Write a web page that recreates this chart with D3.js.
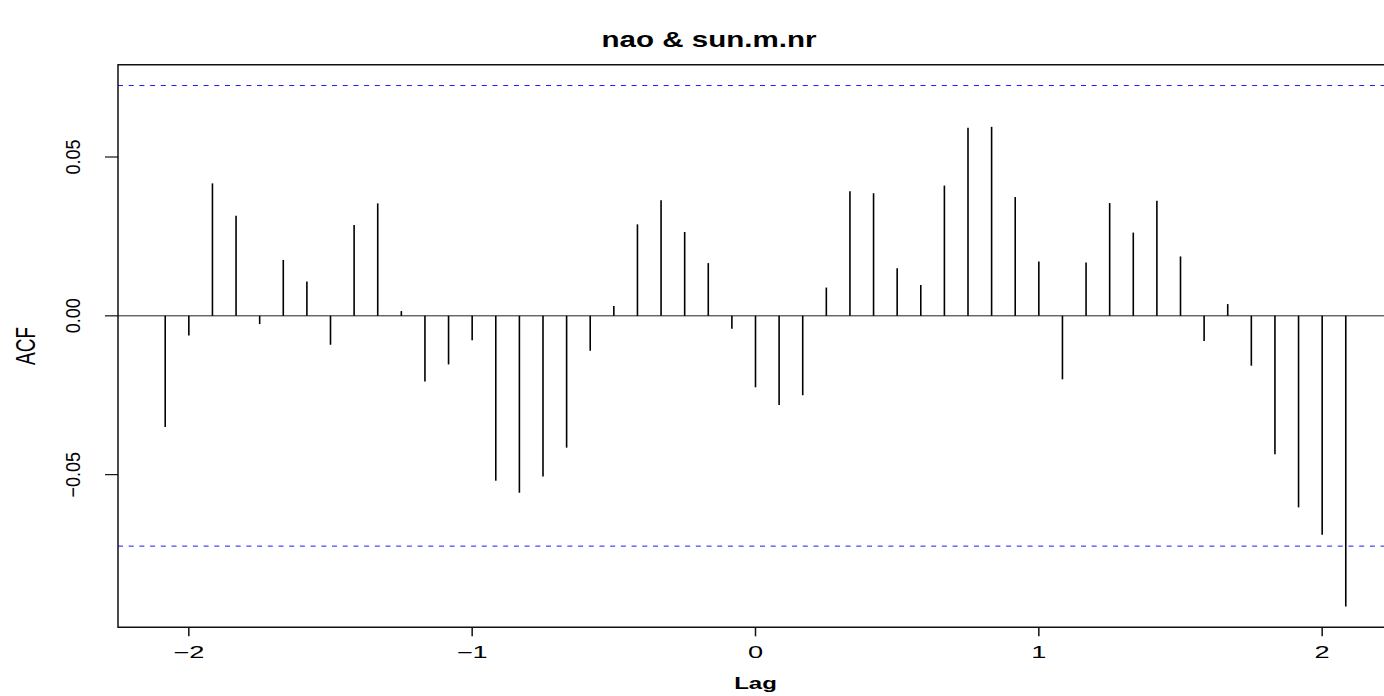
<!DOCTYPE html>
<html>
<head>
<meta charset="utf-8">
<script src="https://cdn.jsdelivr.net/npm/d3@7"></script>
<style>
  body { margin: 0; background: white; }
  svg { display: block; font-family: "Liberation Sans", Arial, sans-serif; }
</style>
</head>
<body>
<div id="plot"></div>
<script>
// lag in months (plotted in years) and cross-correlation values
const lagMonths = [-25, -24, -23, -22, -21, -20, -19, -18, -17, -16, -15, -14, -13, -12, -11, -10, -9, -8, -7, -6, -5, -4, -3, -2, -1,
  0, 1, 2, 3, 4, 5, 6, 7, 8, 9, 10, 11, 12, 13, 14, 15, 16, 17, 18, 19, 20, 21, 22, 23, 24, 25];
const acfValues = [-0.0350, -0.0062, 0.0417, 0.0315, -0.0026, 0.0176, 0.0108, -0.0091, 0.0286, 0.0354, 0.0015, -0.0207, -0.0153,
  -0.0077, -0.0519, -0.0557, -0.0506, -0.0415, -0.0110, 0.0031, 0.0288, 0.0364, 0.0264, 0.0166, -0.0041,
  -0.0225, -0.0281, -0.0250, 0.0089, 0.0392, 0.0386, 0.0150, 0.0097, 0.0410, 0.0592, 0.0595, 0.0374, 0.0171,
  -0.0200, 0.0168, 0.0355, 0.0262, 0.0362, 0.0187, -0.0079, 0.0037, -0.0157, -0.0436, -0.0603, -0.0689, -0.0915];
const ciLimit = 0.0725;
const xTicks = [-2, -1, 0, 1, 2];
const yTicks = [-0.05, 0, 0.05];
const yTickLabels = ["\u22120.05", "0.00", "0.05"];
const xTickLabels = ["\u22122", "\u22121", "0", "1", "2"];

const W = 1384, H = 696;
const plot = { left: 118, right: 1393, top: 64.7, bottom: 627.3 };

const data = lagMonths.map((m, i) => ({ lag: m / 12, acf: acfValues[i] }));

// R style limits: data range + ci, expanded by 4%
let xr = d3.extent(data, d => d.lag);
let yr = d3.extent(acfValues.concat([ciLimit, -ciLimit]));
const xPad = (xr[1] - xr[0]) * 0.04, yPad = (yr[1] - yr[0]) * 0.04;

const x = d3.scaleLinear().domain([xr[0] - xPad, xr[1] + xPad]).range([plot.left, plot.right]);
const y = d3.scaleLinear().domain([yr[0] - yPad, yr[1] + yPad]).range([plot.bottom, plot.top]);

const svg = d3.select("#plot").append("svg")
    .attr("width", W)
    .attr("height", H);

// title
svg.append("text")
    .attr("x", 709)
    .attr("y", 47)
    .attr("text-anchor", "middle")
    .attr("textLength", 215)
    .attr("lengthAdjust", "spacingAndGlyphs")
    .style("font-size", "22px")
    .style("font-weight", "bold")
    .text("nao & sun.m.nr");

// zero line
svg.append("line")
    .attr("x1", plot.left).attr("x2", plot.right)
    .attr("y1", y(0)).attr("y2", y(0))
    .attr("stroke", "#222")
    .attr("stroke-width", 1);

// confidence limits
svg.selectAll("line.ci")
    .data([ciLimit, -ciLimit])
    .enter()
    .append("line")
    .attr("class", "ci")
    .attr("x1", plot.left).attr("x2", plot.right)
    .attr("y1", d => y(d)).attr("y2", d => y(d))
    .attr("stroke", "#1a1aff")
    .attr("stroke-width", 1)
    .attr("stroke-dasharray", "5,5.7");

// spikes
svg.selectAll("line.bar")
    .data(data)
    .enter()
    .append("line")
    .attr("class", "bar")
    .attr("x1", d => x(d.lag)).attr("x2", d => x(d.lag))
    .attr("y1", y(0)).attr("y2", d => y(d.acf))
    .attr("stroke", "#000")
    .attr("stroke-width", 1.6);

// box (right side runs past the window edge)
svg.append("path")
    .attr("d", `M${plot.right},${plot.top}H${plot.left}V${plot.bottom}H${plot.right}`)
    .attr("fill", "none")
    .attr("stroke", "#111")
    .attr("stroke-width", 1.5);

// x axis ticks
const xAxis = svg.append("g");
xAxis.selectAll("line")
    .data(xTicks)
    .enter()
    .append("line")
    .attr("x1", d => x(d)).attr("x2", d => x(d))
    .attr("y1", plot.bottom).attr("y2", plot.bottom + 9)
    .attr("stroke", "#111")
    .attr("stroke-width", 1.5);
xAxis.selectAll("text")
    .data(xTicks)
    .enter()
    .append("text")
    .attr("transform", d => `translate(${x(d)},657.5) scale(1.7,1)`)
    .attr("text-anchor", "middle")
    .style("font-size", "16px")
    .text((d, i) => xTickLabels[i]);

svg.append("text")
    .attr("transform", `translate(${x(0)},689) scale(1.5,1)`)
    .attr("text-anchor", "middle")
    .style("font-size", "16px")
    .style("font-weight", "bold")
    .text("Lag");

// y axis ticks
const yAxis = svg.append("g");
yAxis.selectAll("line")
    .data(yTicks)
    .enter()
    .append("line")
    .attr("x1", plot.left - 13).attr("x2", plot.left)
    .attr("y1", d => y(d)).attr("y2", d => y(d))
    .attr("stroke", "#111")
    .attr("stroke-width", 1.2);
yAxis.selectAll("text")
    .data(yTicks)
    .enter()
    .append("text")
    .attr("transform", d => `translate(80,${y(d)}) rotate(-90) scale(1,1.16)`)
    .attr("text-anchor", "middle")
    .style("font-size", "18px")
    .text((d, i) => yTickLabels[i]);

svg.append("text")
    .attr("transform", `translate(35,346) rotate(-90) scale(1,1.45)`)
    .attr("text-anchor", "middle")
    .style("font-size", "19px")
    .text("ACF");
</script>
</body>
</html>
